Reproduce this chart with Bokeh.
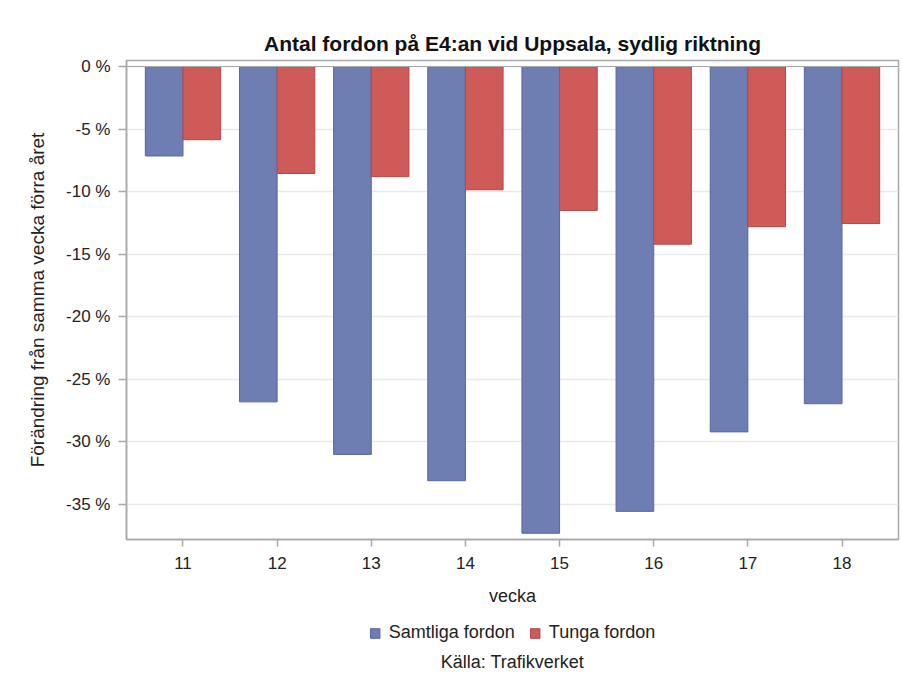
from bokeh.plotting import figure
from bokeh.layouts import column
from bokeh.models import (ColumnDataSource, Range1d, FixedTicker, CustomJSTickFormatter,
                          Legend, LegendItem, Span, Label)
from bokeh.transform import dodge
from bokeh.embed import file_html
from bokeh.resources import INLINE

weeks = [11, 12, 13, 14, 15, 16, 17, 18]
samtliga = [-7.15, -26.8, -31.0, -33.1, -37.3, -35.55, -29.2, -26.95]
tunga = [-5.85, -8.55, -8.8, -9.85, -11.5, -14.2, -12.8, -12.55]
y_ticks = [0, -5, -10, -15, -20, -25, -30, -35]

FONT = "Liberation Sans"
GREY = "#A8A8A8"
BLUE, BLUE_LINE = "#6E7EB2", "#5666A3"
RED, RED_LINE = "#CF5B59", "#B64646"

src = ColumnDataSource(dict(week=weeks, samtliga=samtliga, tunga=tunga))

p = figure(width=900, height=618, output_backend="svg", toolbar_location=None,
           x_range=Range1d(10.4, 18.6), y_range=Range1d(-37.8, 0.48),
           min_border_left=126, min_border_right=2, min_border_top=60, min_border_bottom=79)

p.title.text = "Antal fordon på E4:an vid Uppsala, sydlig riktning"
p.title.align = "center"
p.title.text_font = FONT
p.title.text_font_size = "21px"
p.title.text_font_style = "bold"
p.title.text_color = "#111111"
p.title.standoff = 12

p.vbar(x=dodge("week", -0.2), top=0, bottom="samtliga", width=0.4, source=src,
       fill_color=BLUE, line_color=BLUE_LINE, line_width=1)
p.vbar(x=dodge("week", 0.2), top=0, bottom="tunga", width=0.4, source=src,
       fill_color=RED, line_color=RED_LINE, line_width=1)

p.add_layout(Span(location=0, dimension="width", line_color=GREY, line_width=1))

p.outline_line_color = GREY
p.outline_line_width = 1.5
p.xgrid.grid_line_color = None
p.ygrid.grid_line_color = "#EAEAEA"
p.ygrid.grid_line_width = 1.5

p.xaxis.ticker = FixedTicker(ticks=weeks)
p.yaxis.ticker = FixedTicker(ticks=y_ticks)
p.yaxis.formatter = CustomJSTickFormatter(code="return tick + ' %';")
for ax in (p.xaxis, p.yaxis):
    ax.axis_line_color = GREY
    ax.axis_line_width = 1.5
    ax.major_tick_line_color = GREY
    ax.major_tick_line_width = 1.5
    ax.major_tick_in = 0
    ax.minor_tick_line_color = None
    ax.major_label_text_font = FONT
    ax.major_label_text_font_size = "17px"
    ax.major_label_text_color = "#222222"
    ax.axis_label_text_font = FONT
    ax.axis_label_text_font_style = "normal"
    ax.axis_label_text_color = "#222222"
p.xaxis.axis_label = "vecka"
p.yaxis.axis_label = "Förändring från samma vecka förra året"
p.xaxis.axis_label_text_font_size = "18px"
p.yaxis.axis_label_text_font_size = "19px"
p.xaxis.major_tick_out = 7
p.yaxis.major_tick_out = 8
p.xaxis.major_label_standoff = 10
p.xaxis.axis_label_standoff = 14
p.yaxis.major_label_standoff = 8
p.yaxis.axis_label_standoff = 15

# legend + source note in a small strip below
p2 = figure(width=900, height=58, output_backend="svg", toolbar_location=None,
            x_axis_type=None, y_axis_type=None, min_border=0,
            x_range=Range1d(0, 1), y_range=Range1d(0, 1))
p2.outline_line_color = None
p2.grid.grid_line_color = None
dummy = ColumnDataSource(dict(x=[0.5], top=[0.5]))
g1 = p2.vbar(x="x", top="top", width=0.1, source=dummy, visible=False,
             fill_color=BLUE, line_color=BLUE_LINE)
g2 = p2.vbar(x="x", top="top", width=0.1, source=dummy, visible=False,
             fill_color=RED, line_color=RED_LINE)
legend = Legend(items=[LegendItem(label="Samtliga fordon", renderers=[g1]),
                       LegendItem(label="Tunga fordon", renderers=[g2])],
                orientation="horizontal", location="top_center", click_policy="none",
                border_line_color=None, background_fill_alpha=0,
                label_text_font=FONT, label_text_font_size="18px", label_text_color="#222222",
                glyph_width=12, glyph_height=12, label_standoff=8, spacing=14,
                padding=8, margin=4)
p2.add_layout(legend, "center")
p2.add_layout(Label(x=386, y=15, x_units="screen", y_units="screen",
                    text="Källa: Trafikverket", text_align="center", text_baseline="middle",
                    text_font=FONT, text_font_size="18px", text_color="#222222"))

open("out.html", "w").write(file_html(column(p, p2, spacing=0), INLINE))
